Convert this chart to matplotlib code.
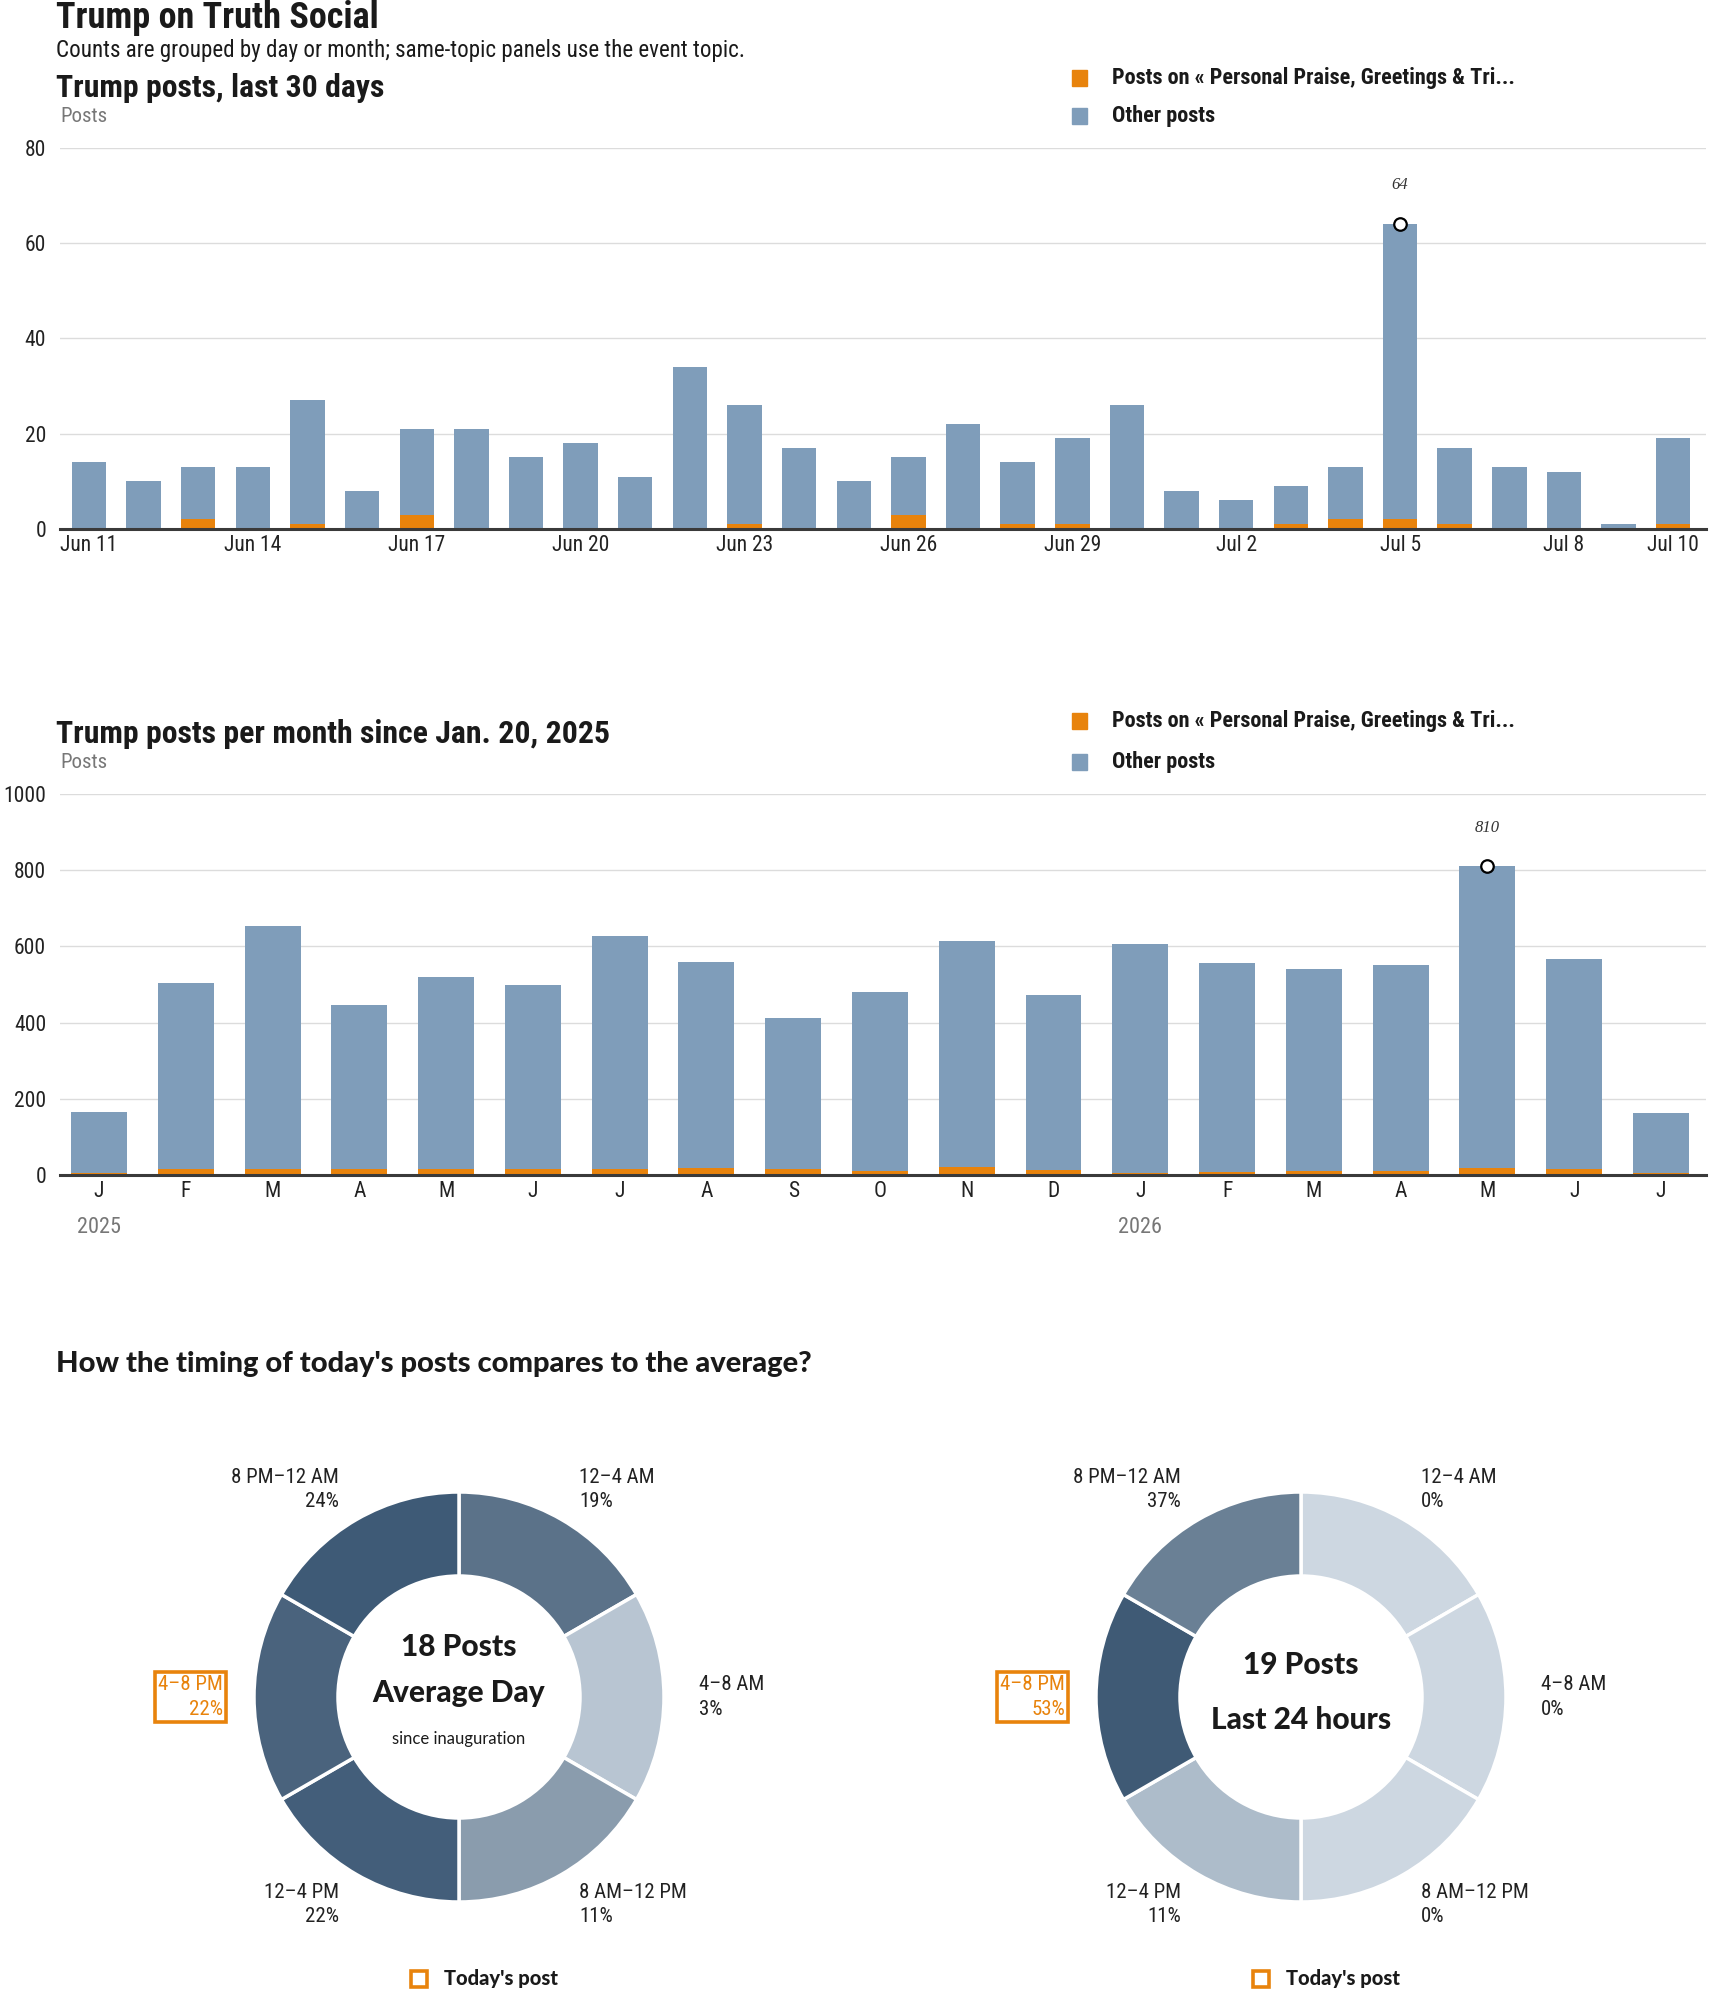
#!/usr/bin/env python3
"""Trump on Truth Social - daily / monthly post counts and time-of-day donuts"""

import matplotlib

matplotlib.use("Agg")
import matplotlib.pyplot as plt
import numpy as np
from matplotlib import font_manager
from matplotlib.patches import Rectangle

# ---- data -----------------------------------------------------------------
day_labels = ["Jun 11", "Jun 12", "Jun 13", "Jun 14", "Jun 15", "Jun 16", "Jun 17",
              "Jun 18", "Jun 19", "Jun 20", "Jun 21", "Jun 22", "Jun 23", "Jun 24",
              "Jun 25", "Jun 26", "Jun 27", "Jun 28", "Jun 29", "Jun 30", "Jul 1",
              "Jul 2", "Jul 3", "Jul 4", "Jul 5", "Jul 6", "Jul 7", "Jul 8",
              "Jul 9", "Jul 10"]
day_total = [14, 10, 13, 13, 27, 8, 21, 21, 15, 18, 11, 34, 26, 17, 10,
             15, 22, 14, 19, 26, 8, 6, 9, 13, 64, 17, 13, 12, 1, 19]
day_topic = [0, 0, 2, 0, 1, 0, 3, 0, 0, 0, 0, 0, 1, 0, 0,
             3, 0, 1, 1, 0, 0, 0, 1, 2, 2, 1, 0, 0, 0, 1]
day_ticks = ["Jun 11", "Jun 14", "Jun 17", "Jun 20", "Jun 23", "Jun 26",
             "Jun 29", "Jul 2", "Jul 5", "Jul 8", "Jul 10"]

month_labels = ["J", "F", "M", "A", "M", "J", "J", "A", "S", "O", "N", "D",
                "J", "F", "M", "A", "M", "J", "J"]
month_years = {0: "2025", 12: "2026"}
month_total = [166, 505, 653, 447, 520, 500, 627, 560, 413, 480, 613, 473,
               607, 557, 540, 550, 810, 568, 164]
month_topic = [5, 17, 17, 17, 17, 17, 17, 19, 17, 11, 22, 13,
               5, 8, 11, 11, 19, 17, 5]

slots = ["12–4 AM", "4–8 AM", "8 AM–12 PM", "12–4 PM", "4–8 PM", "8 PM–12 AM"]
avg_share = [19, 3, 11, 22, 22, 24]
last24_share = [0, 0, 0, 11, 53, 37]
today_slot = "4–8 PM"
avg_posts = 18
last24_posts = 19

topic_label = "Posts on « Personal Praise, Greetings & Tri..."

# ---- style ----------------------------------------------------------------
W, H = 1710, 1993
BLUE = "#7f9dba"
ORANGE = "#e8830c"
INK = "#1a1a1a"
GREY = "#777777"
GRID = "#dcdcdc"
AVG_COLORS = ["#5b7289", "#b8c5d2", "#8a9cad", "#435e7a", "#4a637d", "#3e5a76"]
L24_COLORS = ["#cdd7e1", "#cdd7e1", "#cdd7e1", "#adbcca", "#3f5a75", "#6a8095"]


def pick_font(names):
    have = {f.name for f in font_manager.fontManager.ttflist}
    for n in names:
        if n in have:
            return n
    return "DejaVu Sans"


NARROW = pick_font(["Liberation Sans Narrow", "Roboto Condensed", "Liberation Sans"])
WIDE = pick_font(["Lato", "Roboto", "Liberation Sans"])
plt.rcParams["font.family"] = [NARROW, "DejaVu Sans"]


def rect(x0, y0, x1, y1):
    """pixel box (top-left origin) -> figure fraction rect"""
    return [x0 / W, 1 - y1 / H, (x1 - x0) / W, (y1 - y0) / H]


def ftext(x, y, s, **kw):
    kw.setdefault("va", "center")
    return fig.text(x / W, 1 - y / H, s, **kw)


def legend_rows(y1, y2):
    for y, col, lab in [(y1, ORANGE, topic_label), (y2, BLUE, "Other posts")]:
        fig.add_artist(Rectangle((1072 / W, 1 - (y + 8) / H), 15 / W, 16 / H,
                                 transform=fig.transFigure, color=col))
        ftext(1112, y, lab, fontsize=16, fontweight="heavy", color=INK)


def bar_panel(ax, totals, topic, width, ymax, step, xlim):
    x = np.arange(len(totals))
    other = np.array(totals) - np.array(topic)
    ax.bar(x, topic, width=width, color=ORANGE, zorder=3)
    ax.bar(x, other, bottom=topic, width=width, color=BLUE, zorder=3)
    ax.set_ylim(0, ymax)
    ax.set_xlim(*xlim)
    ax.set_yticks(np.arange(0, ymax + 1, step))
    ax.grid(axis="y", color=GRID, linewidth=1.0, zorder=0)
    for s in ["top", "right", "left"]:
        ax.spines[s].set_visible(False)
    ax.spines["bottom"].set_color("#3a3a3a")
    ax.spines["bottom"].set_linewidth(2.2)
    ax.spines["bottom"].set_zorder(4)
    ax.tick_params(axis="y", length=0, pad=10, labelsize=15.5, labelcolor="#222")
    ax.tick_params(axis="x", length=0, pad=4, labelsize=15.5, labelcolor="#222")
    # mark the highest bar
    k = int(np.argmax(totals))
    ax.plot(k, totals[k], "o", ms=9, mfc="white", mec="black", mew=1.6,
            zorder=5, clip_on=False)
    ax.annotate(str(totals[k]), xy=(k, totals[k]), xytext=(0, 28),
                textcoords="offset points", ha="center", va="center",
                fontsize=12, style="italic", color="#333",
                family=["Liberation Serif", "DejaVu Serif"])
    return x


fig = plt.figure(figsize=(W / 100, H / 100), dpi=100)

# ---- header ---------------------------------------------------------------
ftext(56, 18, "Trump on Truth Social", fontsize=26, fontweight="heavy", color=INK)
ftext(56, 51, "Counts are grouped by day or month; same-topic panels use the event topic.",
      fontsize=16.6, color=INK)

# ---- panel 1: last 30 days --------------------------------------------------
ftext(56, 88, "Trump posts, last 30 days", fontsize=22.9, fontweight="heavy", color=INK)
ftext(60, 116, "Posts", fontsize=15, color=GREY)
legend_rows(78, 116)
ax1 = fig.add_axes(rect(60, 147.5, 1706, 529))
x1 = bar_panel(ax1, day_total, day_topic, 0.63, 80, 20, (-0.53, 29.6))
ax1.set_xticks([day_labels.index(t) for t in day_ticks])
ax1.set_xticklabels(day_ticks)

# ---- panel 2: per month -----------------------------------------------------
ftext(56, 734, "Trump posts per month since Jan. 20, 2025", fontsize=22.9,
      fontweight="heavy", color=INK)
ftext(60, 762, "Posts", fontsize=15, color=GREY)
legend_rows(721, 762)
ax2 = fig.add_axes(rect(60, 794, 1706, 1175))
x2 = bar_panel(ax2, month_total, month_topic, 0.645, 1000, 200, (-0.45, 18.52))
ax2.set_xticks(x2)
ax2.set_xticklabels(month_labels)
for i, yr in month_years.items():
    ax2.annotate(yr, xy=(i, 0), xytext=(0, -38), textcoords="offset points",
                 ha="center", va="center", fontsize=16, color=GREY)

# ---- donuts -----------------------------------------------------------------
ftext(56, 1364, "How the timing of today's posts compares to the average?",
      fontsize=21, fontweight="black", color=INK, family=[WIDE, "DejaVu Sans"])

axd = fig.add_axes([0, 0, 1, 1])
axd.set_zorder(-1)
R, RING = 205, 84


def donut(cx, cy, shares, colors, lines):
    cyd = H - cy
    axd.pie(np.ones(len(shares)), radius=R, center=(cx, cyd), startangle=90,
            counterclock=False, colors=colors,
            wedgeprops=dict(width=RING, edgecolor="white", linewidth=2.5))
    rl = 1.17 * R
    for k, (slot, pct) in enumerate(zip(slots, shares)):
        th = np.deg2rad(30 + 60 * k)
        lx, ly = cx + rl * np.sin(th), cyd + rl * np.cos(th)
        ha = "left" if np.sin(th) > 0 else "right"
        today = slot == today_slot
        kw = dict(ha=ha, va="center", multialignment=ha, fontsize=15,
                  linespacing=1.36, color=ORANGE if today else "#222")
        if today:
            lx += 4 if ha == "right" else -4
            kw["bbox"] = dict(boxstyle="square,pad=0.16", fc="none", ec=ORANGE, lw=2.6)
        axd.text(lx, ly, f"{slot}\n{pct}%", **kw)
    for dy, s, size, weight in lines:
        axd.text(cx, cyd - dy, s, ha="center", va="center", fontsize=size,
                 fontweight=weight, color=INK, family=[WIDE, "DejaVu Sans"])
    # legend
    axd.add_patch(Rectangle((cx - 48, H - 1987), 16, 16, fill=False, ec=ORANGE, lw=2.6))
    axd.text(cx - 15, H - 1979, "Today's post", ha="left", va="center",
             fontsize=14.5, fontweight="black", color=INK, family=[WIDE, "DejaVu Sans"])


donut(459, 1697, avg_share, AVG_COLORS,
      [(-50, f"{avg_posts} Posts", 21.5, "black"), (-4, "Average Day", 21.5, "black"),
       (42, "since inauguration", 12, "normal")])
donut(1301, 1697, last24_share, L24_COLORS,
      [(-32, f"{last24_posts} Posts", 21.5, "black"), (23, "Last 24 hours", 21.5, "black")])
axd.set_xlim(0, W)
axd.set_ylim(0, H)
axd.set_aspect("equal")
axd.axis("off")

fig.savefig("out.png", dpi=100)
